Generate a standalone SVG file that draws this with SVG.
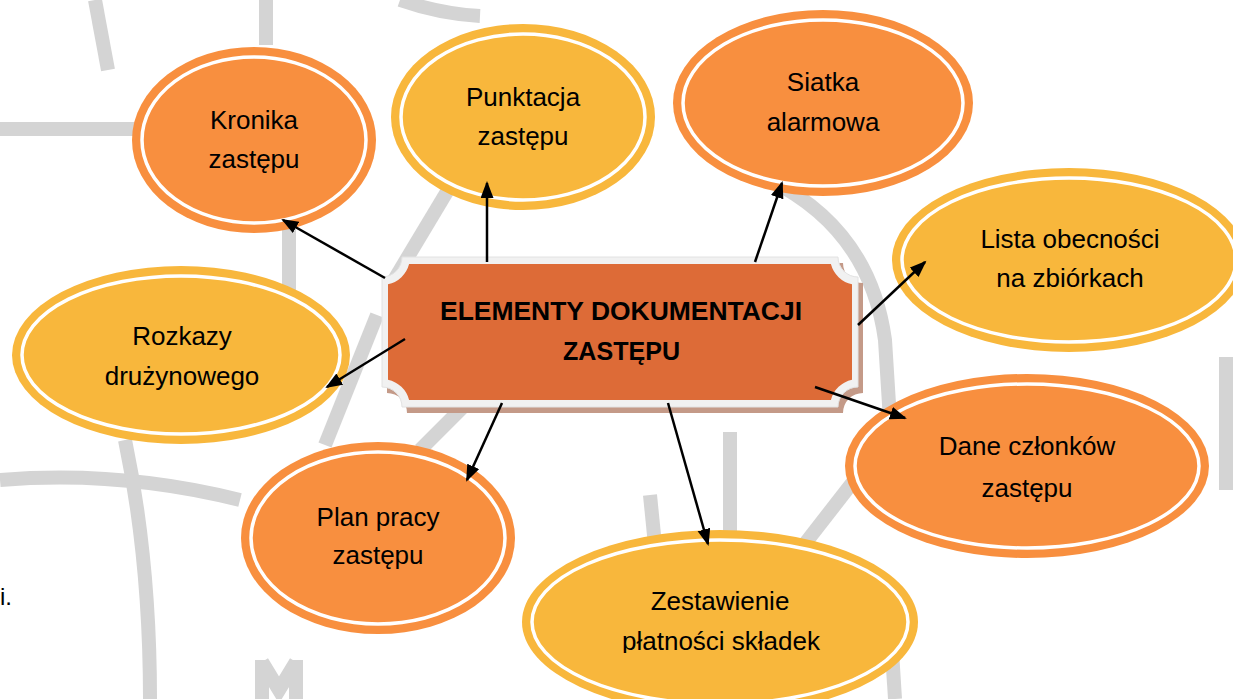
<svg xmlns="http://www.w3.org/2000/svg" width="1233" height="699" viewBox="0 0 1233 699">
  <defs>
    <style>
      .wm { fill: none; stroke: #d4d4d4; stroke-width: 14; stroke-linecap: butt; }
      .orange { fill: #F88F3F; }
      .yellow { fill: #F8B73C; }
      .ring { fill: none; stroke: #ffffff; stroke-width: 3.5; }
      .lbl { font-family: "Liberation Sans", Arial, sans-serif; font-size: 26px; fill: #000; text-anchor: middle; }
      .title { font-family: "Liberation Sans", Arial, sans-serif; font-size: 26px; font-weight: bold; fill: #000; text-anchor: middle; }
      .conn { stroke: #000; stroke-width: 2.5; fill: none; marker-end: url(#arrow); }
    </style>
    <marker id="arrow" markerUnits="userSpaceOnUse" markerWidth="18" markerHeight="14" refX="15" refY="6.5" orient="auto">
      <path d="M0,0 L17,6.5 L0,13 Z" fill="#000"/>
    </marker>
    <clipPath id="clipBottom">
      <rect x="0" y="0" width="1233" height="653"/>
    </clipPath>
  </defs>

  <rect x="0" y="0" width="1233" height="699" fill="#ffffff"/>

  <!-- watermark -->
  <g id="watermark">
    <path class="wm" d="M95,0 L108,70"/>
    <path class="wm" d="M266,0 L266,45"/>
    <path class="wm" d="M0,129 L140,129"/>
    <path class="wm" d="M289,150 L289,300"/>
    <path class="wm" d="M472,150 L388,290"/>
    <path class="wm" d="M770,180 Q870,230 885,340 L890,420"/>
    <path class="wm" d="M377,315 L325,445"/>
    <path class="wm" d="M465,405 L420,450"/>
    <path class="wm" d="M730,432 L730,550"/>
    <path class="wm" d="M856,478 L800,550"/>
    <path class="wm" d="M650,495 L655,545"/>
    <path class="wm" d="M0,480 Q120,470 240,500"/>
    <path class="wm" d="M125,440 Q150,560 150,699"/>
    <path class="wm" d="M1226,357 L1226,490"/>
    <path class="wm" d="M262,660 L262,699 M296,660 L296,699 M262,662 L279,690 L296,662"/>
    <path class="wm" d="M890,620 L895,699"/>
    <path class="wm" d="M400,0 Q440,14 480,16"/>
  </g>

  <!-- central node -->
  <g id="center">
    <path d="M407,263 H843 A20 20 0 0 0 863,283 V393 A20 20 0 0 0 843,413 H407 A20 20 0 0 0 387,393 V283 A20 20 0 0 0 407,263 Z" fill="#c49a88"/>
    <path d="M402,257 H838 A20 20 0 0 0 858,277 V387 A20 20 0 0 0 838,407 H402 A20 20 0 0 0 382,387 V277 A20 20 0 0 0 402,257 Z" fill="#f1f1f1" stroke="#e2e2e2" stroke-width="1"/>
    <path d="M409.1,264 H830.9 A28 28 0 0 0 852,284.3 V379.7 A28 28 0 0 0 830.9,400 H409.1 A28 28 0 0 0 388,379.7 V284.3 A28 28 0 0 0 409.1,264 Z" fill="#DD6B37"/>
    <text class="title" x="621" y="320" textLength="362" lengthAdjust="spacingAndGlyphs">ELEMENTY DOKUMENTACJI</text>
    <text class="title" x="621.5" y="360" textLength="117" lengthAdjust="spacingAndGlyphs">ZASTĘPU</text>
  </g>

  <g id="kronika">
    <ellipse class="orange" cx="254" cy="140" rx="122" ry="93"/>
    <ellipse class="ring" cx="254" cy="140" rx="112" ry="83"/>
    <text class="lbl" x="254" y="129">Kronika</text>
    <text class="lbl" x="254" y="168">zastępu</text>
  </g>

  <g id="punktacja">
    <ellipse class="yellow" cx="523" cy="117" rx="132" ry="93"/>
    <ellipse class="ring" cx="523" cy="117" rx="122" ry="83"/>
    <text class="lbl" x="523" y="106">Punktacja</text>
    <text class="lbl" x="523" y="145">zastępu</text>
  </g>

  <g id="siatka">
    <ellipse class="orange" cx="823" cy="103" rx="150" ry="93"/>
    <ellipse class="ring" cx="823" cy="103" rx="140" ry="83"/>
    <text class="lbl" x="823" y="91">Siatka</text>
    <text class="lbl" x="823" y="131">alarmowa</text>
  </g>

  <g id="lista">
    <ellipse class="yellow" cx="1069" cy="260" rx="177" ry="92"/>
    <ellipse class="ring" cx="1069" cy="260" rx="167" ry="82"/>
    <text class="lbl" x="1070" y="248">Lista obecności</text>
    <text class="lbl" x="1070" y="287">na zbiórkach</text>
  </g>

  <g id="rozkazy">
    <ellipse class="yellow" cx="181" cy="355" rx="169" ry="89"/>
    <ellipse class="ring" cx="181" cy="355" rx="159" ry="79"/>
    <text class="lbl" x="182" y="345">Rozkazy</text>
    <text class="lbl" x="182" y="385">drużynowego</text>
  </g>

  <g id="dane">
    <ellipse class="orange" cx="1027" cy="466" rx="182" ry="92"/>
    <ellipse class="ring" cx="1027" cy="466" rx="172" ry="82"/>
    <text class="lbl" x="1027" y="455">Dane członków</text>
    <text class="lbl" x="1027" y="497">zastępu</text>
  </g>

  <g id="plan">
    <ellipse class="orange" cx="378" cy="538" rx="137" ry="96"/>
    <ellipse class="ring" cx="378" cy="538" rx="127" ry="86"/>
    <text class="lbl" x="378" y="526">Plan pracy</text>
    <text class="lbl" x="378" y="564">zastępu</text>
  </g>

  <g id="zestawienie">
    <ellipse class="yellow" cx="720" cy="622" rx="198" ry="92"/>
    <ellipse class="ring" cx="720" cy="622" rx="188" ry="82"/>
    <text class="lbl" x="720" y="610">Zestawienie</text>
    <text class="lbl" x="721" y="650" clip-path="url(#clipBottom)">płatności składek</text>
  </g>

  <g id="connectors">
    <line class="conn" x1="385" y1="278" x2="283" y2="220"/>
    <line class="conn" x1="487" y1="262" x2="487" y2="183"/>
    <line class="conn" x1="755" y1="262" x2="782" y2="183"/>
    <line class="conn" x1="858" y1="325" x2="925" y2="262"/>
    <line class="conn" x1="405" y1="339" x2="327" y2="387"/>
    <line class="conn" x1="502" y1="403" x2="467" y2="480"/>
    <line class="conn" x1="668" y1="403" x2="708" y2="544"/>
    <line class="conn" x1="815" y1="387" x2="905" y2="418"/>
  </g>

  <text x="0" y="605" font-family="Liberation Sans, Arial, sans-serif" font-size="24" fill="#000">i.</text>
</svg>
